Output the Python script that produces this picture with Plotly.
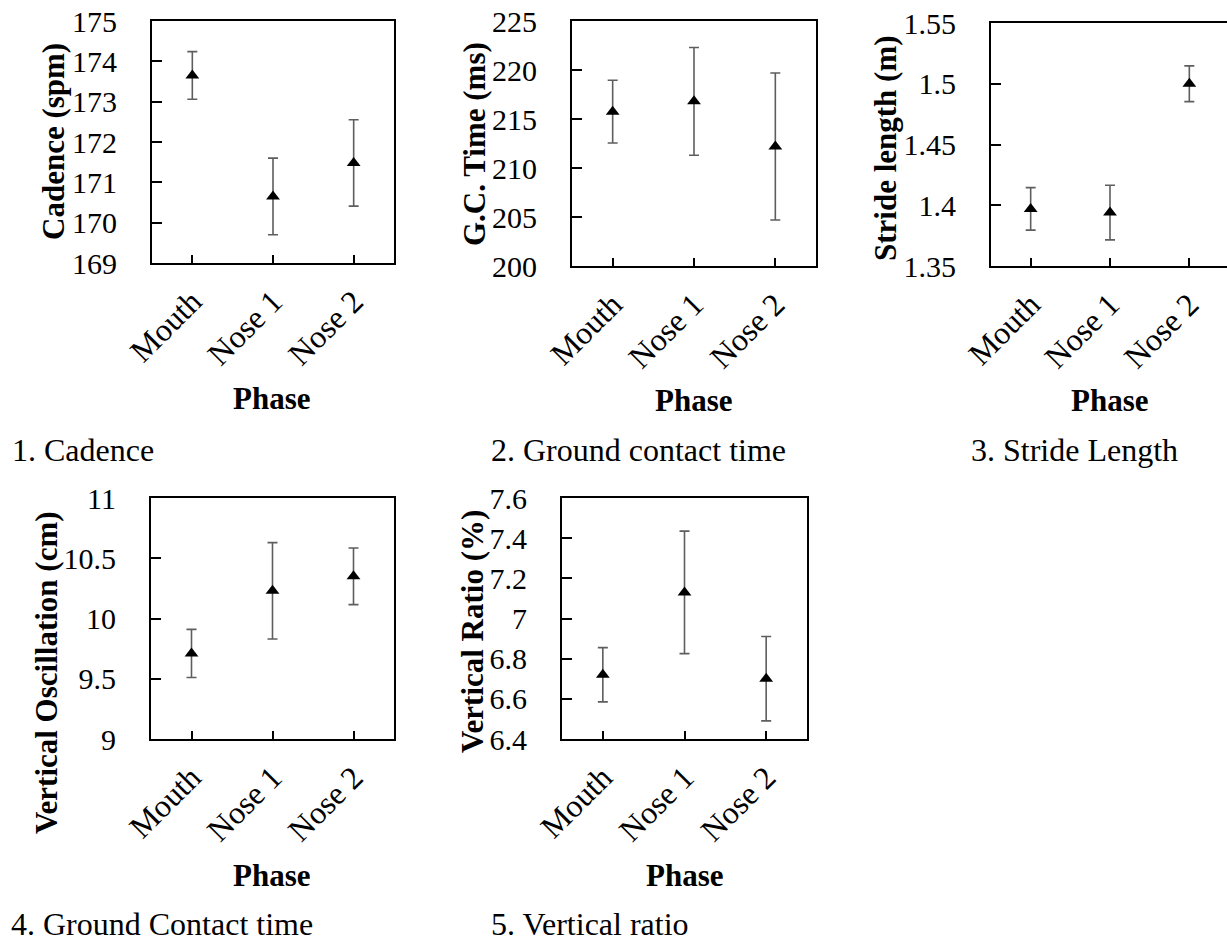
import plotly.graph_objects as go

# ---------------- data ----------------
categories = ["Mouth", "Nose 1", "Nose 2"]

cadence = [173.65, 170.65, 171.48]
cadence_err = [0.59, 0.95, 1.07]

gct = [215.75, 216.8, 212.2]
gct_err = [3.2, 5.5, 7.5]

stride = [1.397, 1.394, 1.500]
stride_err = [0.0175, 0.0225, 0.0147]

vert_osc = [9.71, 10.23, 10.35]
vert_osc_err = [0.20, 0.40, 0.235]

vert_ratio = [6.72, 7.13, 6.70]
vert_ratio_err = [0.135, 0.305, 0.21]

cad_ticks = [169, 170, 171, 172, 173, 174, 175]
cad_ticktext = ["169", "170", "171", "172", "173", "174", "175"]
gct_ticks = [200, 205, 210, 215, 220, 225]
gct_ticktext = ["200", "205", "210", "215", "220", "225"]
str_ticks = [1.35, 1.40, 1.45, 1.50, 1.55]
str_ticktext = ["1.35", "1.4", "1.45", "1.5", "1.55"]
vo_ticks = [9.0, 9.5, 10.0, 10.5, 11.0]
vo_ticktext = ["9", "9.5", "10", "10.5", "11"]
vr_ticks = [6.4, 6.6, 6.8, 7.0, 7.2, 7.4, 7.6]
vr_ticktext = ["6.4", "6.6", "6.8", "7", "7.2", "7.4", "7.6"]

y_titles = ["Cadence (spm)", "G.C. Time (ms)", "Stride length (m)",
            "Vertical Oscillation (cm)", "Vertical Ratio (%)"]
x_title = "Phase"
captions = ["1. Cadence", "2. Ground contact time", "3. Stride Length",
            "4. Ground Contact time", "5. Vertical ratio"]

# ---------------- layout geometry (pixels) ----------------
W, H = 1227, 943
FONT = "Liberation Serif"

# (x0, x1, ytop, ybottom)
boxes = [
    (152, 394, 21, 263),
    (572, 816, 21, 266),
    (991, 1229, 23, 266),
    (151, 394, 498, 739),
    (562, 807, 498, 739),
]
yranges = [(169, 175), (200, 225), (1.35, 1.55), (9, 11), (6.4, 7.6)]
series = [(cadence, cadence_err), (gct, gct_err), (stride, stride_err),
          (vert_osc, vert_osc_err), (vert_ratio, vert_ratio_err)]
ticks = [(cad_ticks, cad_ticktext), (gct_ticks, gct_ticktext),
         (str_ticks, str_ticktext), (vo_ticks, vo_ticktext),
         (vr_ticks, vr_ticktext)]
ytitle_pos = [(53, 142), (474, 144), (885, 148), (46, 673), (472, 632)]
phase_pos = [(272, 398), (694, 400), (1110, 400), (272, 875), (685, 875)]
caption_pos = [(10, 450), (489, 450), (969, 450), (9, 924), (489, 924)]


def px(x):
    return x / W


def py(y):
    return 1 - y / H


fig = go.Figure()
annotations = []

for i in range(5):
    n = i + 1
    m = n + 5
    xa = "x" if n == 1 else f"x{n}"
    ya = "y" if n == 1 else f"y{n}"
    ya_in = f"y{m}"
    vals, errs = series[i]
    # invisible companion trace so the tick-mark overlay axis is drawn
    fig.add_trace(go.Scatter(
        x=categories, y=vals, xaxis=xa, yaxis=ya_in, mode="markers",
        marker=dict(size=1, opacity=0), showlegend=False, hoverinfo="skip"))
    fig.add_trace(go.Scatter(
        x=categories, y=vals, xaxis=xa, yaxis=ya, mode="markers",
        marker=dict(symbol="triangle-up", size=12, color="black"),
        error_y=dict(type="data", array=errs, visible=True,
                     color="#5e5e5e", thickness=1.6, width=5),
        showlegend=False, hoverinfo="skip"))

    x0, x1, yt, yb = boxes[i]
    xr_max = 2.5
    dom_x1 = x1
    if x1 > W:
        step = (x1 - x0) / 3.0
        xr_max = 2.5 - (x1 - W) / step
        dom_x1 = W
    xkey = "xaxis" if n == 1 else f"xaxis{n}"
    ykey = "yaxis" if n == 1 else f"yaxis{n}"
    ykey_in = f"yaxis{m}"
    fig.update_layout(**{
        xkey: dict(
            domain=[px(x0), px(dom_x1)], anchor=ya, type="category",
            categoryorder="array", categoryarray=categories,
            range=[-0.5, xr_max], showline=True, linecolor="black",
            linewidth=2, mirror=True, ticks="inside", ticklen=8,
            tickwidth=2, tickcolor="black", tickangle=-45,
            ticklabelstandoff=5, automargin=False,
            tickfont=dict(family=FONT, size=32, color="black"),
            showgrid=False, zeroline=False, fixedrange=True),
        ykey: dict(
            domain=[py(yb), py(yt)], anchor=xa, range=list(yranges[i]),
            tickvals=ticks[i][0], ticktext=ticks[i][1],
            showline=True, linecolor="black", linewidth=2,
            mirror=(x1 <= W), ticks="outside", ticklen=27, tickwidth=1,
            tickcolor="rgba(0,0,0,0)", automargin=False,
            tickfont=dict(family=FONT, size=30, color="black"),
            showgrid=False, zeroline=False, fixedrange=True),
        ykey_in: dict(
            overlaying=ya, anchor=xa, side="left", range=list(yranges[i]),
            tickvals=ticks[i][0], showticklabels=False, showline=False,
            ticks="inside", ticklen=10, tickwidth=2, tickcolor="black",
            automargin=False, showgrid=False, zeroline=False,
            fixedrange=True),
    })

    tx, ty = ytitle_pos[i]
    annotations.append(dict(
        x=px(tx), y=py(ty), xref="paper", yref="paper", text=f"<b>{y_titles[i]}</b>",
        showarrow=False, textangle=-90, xanchor="center", yanchor="middle",
        font=dict(family=FONT, size=31, color="black")))
    phx, phy = phase_pos[i]
    annotations.append(dict(
        x=px(phx), y=py(phy), xref="paper", yref="paper", text=f"<b>{x_title}</b>",
        showarrow=False, xanchor="center", yanchor="middle",
        font=dict(family=FONT, size=31, color="black")))
    cx, cy = caption_pos[i]
    annotations.append(dict(
        x=px(cx), y=py(cy), xref="paper", yref="paper", text=captions[i],
        showarrow=False, xanchor="left", yanchor="middle",
        font=dict(family=FONT, size=32, color="black")))

fig.update_layout(
    width=W, height=H, margin=dict(l=0, r=0, t=0, b=0, autoexpand=False),
    paper_bgcolor="white", plot_bgcolor="white",
    annotations=annotations, showlegend=False,
    font=dict(family=FONT, color="black"),
)

fig.write_html("out.html")
